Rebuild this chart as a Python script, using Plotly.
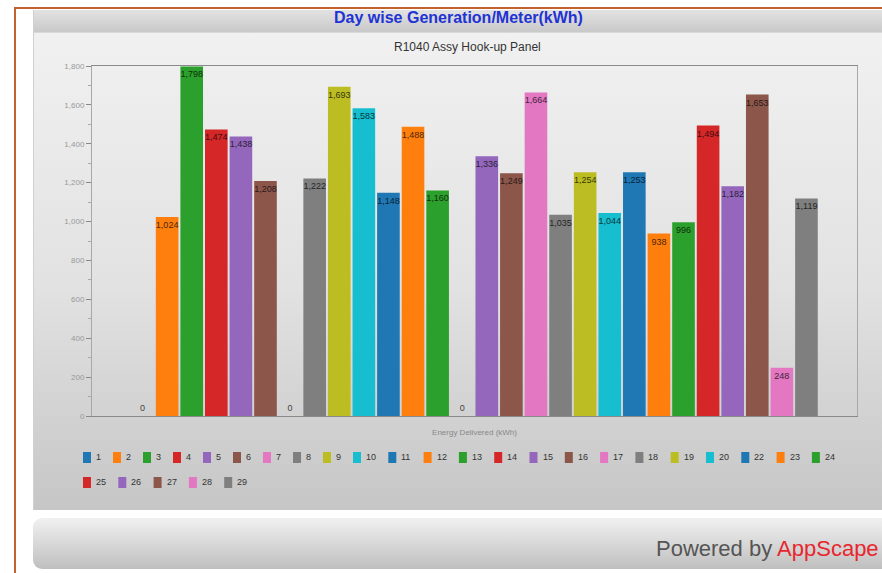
import base64
import plotly.graph_objects as go

# Day-wise energy delivered by the meter (kWh); day 21 has no reading
days = ["1", "2", "3", "4", "5", "6", "7", "8", "9", "10", "11", "12", "13", "14",
        "15", "16", "17", "18", "19", "20", "22", "23", "24", "25", "26", "27", "28", "29"]
energy = [0, 1024, 1798, 1474, 1438, 1208, 0, 1222, 1693, 1583, 1148, 1488, 1160, 0,
          1336, 1249, 1664, 1035, 1254, 1044, 1253, 938, 996, 1494, 1182, 1653, 248, 1119]
category = ["Energy Delivered (kWh)"]
y_ticks = [0, 200, 400, 600, 800, 1000, 1200, 1400, 1600, 1800]

palette = ["#1f77b4", "#ff7f0e", "#2ca02c", "#d62728", "#9467bd",
           "#8c564b", "#e377c2", "#7f7f7f", "#bcbd22", "#17becf"]

W, H = 882, 573
L, R, T, B = 92, 857, 66, 416          # plot area in page pixels
SANS = "Liberation Sans, Arial, sans-serif"


def px(x):
    return (x - L) / (R - L)


def py(y):
    return (B - y) / (B - T)


def darker(hex_color, k=0.3):
    r, g, b = (int(hex_color[i:i + 2], 16) for i in (1, 3, 5))
    return f"rgb({int(r * k)},{int(g * k)},{int(b * k)})"


# page chrome: framed container, grey panels with vertical gradients, footer bar
svg = f"""<svg xmlns="http://www.w3.org/2000/svg" width="{W}" height="{H}" viewBox="0 0 {W} {H}">
<defs>
<linearGradient id="hdr" x1="0" y1="0" x2="0" y2="1"><stop offset="0" stop-color="#e2e2e2"/><stop offset="1" stop-color="#c9c9c9"/></linearGradient>
<linearGradient id="pnl" x1="0" y1="0" x2="0" y2="1"><stop offset="0" stop-color="#f2f2f2"/><stop offset="0.55" stop-color="#e2e2e2"/><stop offset="1" stop-color="#c6c6c6"/></linearGradient>
<linearGradient id="ftr" x1="0" y1="0" x2="0" y2="1"><stop offset="0" stop-color="#f1f1f1"/><stop offset="1" stop-color="#bfbfbf"/></linearGradient>
</defs>
<rect x="0" y="0" width="{W}" height="{H}" fill="#ffffff"/>
<rect x="33" y="10" width="{W - 33}" height="500" fill="url(#pnl)"/>
<rect x="33" y="10" width="{W - 33}" height="22" fill="url(#hdr)"/>
<line x1="33" y1="32.5" x2="{W}" y2="32.5" stroke="#d8d8d8" stroke-width="1"/>
<line x1="33.5" y1="10" x2="33.5" y2="510" stroke="#d0d0d0" stroke-width="1"/>
<rect x="33" y="518" width="{W + 20 - 33}" height="51" rx="9" ry="9" fill="url(#ftr)"/>
<line x1="14" y1="8" x2="{W}" y2="8" stroke="#c4622c" stroke-width="2"/>
<line x1="15" y1="7" x2="15" y2="{H}" stroke="#c4622c" stroke-width="2"/>
</svg>"""
bg_uri = "data:image/svg+xml;base64," + base64.b64encode(svg.encode()).decode()

fig = go.Figure()
for i, (day, val) in enumerate(zip(days, energy)):
    col = palette[i % len(palette)]
    fig.add_trace(go.Bar(
        name=day,
        x=category,
        y=[val],
        marker=dict(color=col, line=dict(width=0)),
        texttemplate="%{y:,}",
        textposition="outside" if val == 0 else "inside",
        insidetextanchor="end",
        textangle=0,
        textfont=dict(family=SANS, size=9, color=darker(col) if val else "#444"),
        cliponaxis=False,
        showlegend=False,
        hoverinfo="name+y",
    ))

# legend row(s) drawn as swatches and labels below the axis
shapes = []
annotations = []
lx, ly = 83, 457
for i, day in enumerate(days):
    w = 24.7 + 5.3 * len(day)
    if lx + w > 862:
        lx, ly = 83, 482
    col = palette[i % len(palette)]
    shapes.append(dict(type="rect", xref="paper", yref="paper",
                       x0=px(lx), x1=px(lx + 8), y0=py(ly + 6), y1=py(ly - 5),
                       fillcolor=col, line=dict(width=0), layer="above"))
    annotations.append(dict(text=day, xref="paper", yref="paper",
                            x=px(lx + 11), y=py(ly), xanchor="left", yanchor="middle",
                            showarrow=False, font=dict(family=SANS, size=9, color="#333")))
    lx += w

annotations += [
    dict(text="<b>Day wise Generation/Meter(kWh)</b>", xref="paper", yref="paper",
         x=px(458), y=py(18), xanchor="center", yanchor="middle", showarrow=False,
         font=dict(family=SANS, size=16, color="#2233d4")),
    dict(text="R1040 Assy Hook-up Panel", xref="paper", yref="paper",
         x=px(467), y=py(47), xanchor="center", yanchor="middle", showarrow=False,
         font=dict(family=SANS, size=12, color="#333")),
    dict(text="Powered by <span style='color:#e8262d'>AppScape</span>", xref="paper", yref="paper",
         x=px(881), y=py(548), xanchor="right", yanchor="middle", showarrow=False,
         font=dict(family=SANS, size=22, color="#555")),
]

fig.update_layout(
    width=W, height=H,
    margin=dict(l=L, r=W - R, t=T, b=H - B, pad=0),
    paper_bgcolor="#ffffff",
    plot_bgcolor="rgba(0,0,0,0)",
    barmode="group",
    bargap=0.1,
    bargroupgap=0.08,
    showlegend=False,
    uniformtext=dict(mode="show", minsize=9),
    images=[dict(source=bg_uri, xref="paper", yref="paper",
                 x=px(0), y=py(0), sizex=px(W) - px(0), sizey=py(0) - py(H),
                 xanchor="left", yanchor="top", sizing="stretch", layer="below")],
    shapes=shapes,
    annotations=annotations,
    xaxis=dict(
        type="category", showgrid=False, zeroline=False,
        showline=True, linecolor="#8a8a8a", linewidth=1, mirror=True,
        ticks="", ticklabelstandoff=8,
        tickfont=dict(family=SANS, size=8, color="#888"),
    ),
    yaxis=dict(
        range=[0, 1800], tickvals=y_ticks, tickformat=",",
        showgrid=False, zeroline=False,
        showline=True, linecolor="#a8a8a8", linewidth=1, mirror=True,
        ticks="outside", ticklen=5, tickcolor="#888",
        tickfont=dict(family=SANS, size=8, color="#999"),
        minor=dict(dtick=100, ticks="outside", ticklen=3, tickcolor="#aaa"),
    ),
)

fig.write_html("out.html")
